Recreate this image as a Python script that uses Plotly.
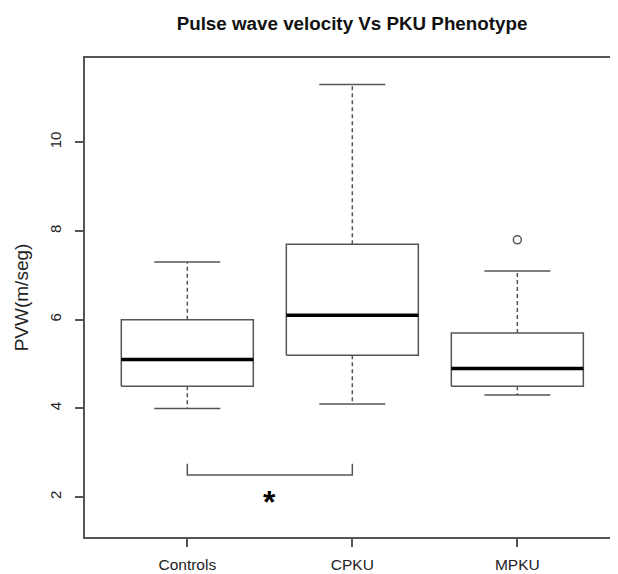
import plotly.graph_objects as go

categories = ["Controls", "CPKU", "MPKU"]
lower_whisker = [4.0, 4.1, 4.3]
q1 = [4.5, 5.2, 4.5]
median = [5.1, 6.1, 4.9]
q3 = [6.0, 7.7, 5.7]
upper_whisker = [7.3, 11.3, 7.1]
outlier_group = [3]
outlier_values = [7.8]
y_ticks = [2, 4, 6, 8, 10]

# significance bracket between Controls and CPKU
bracket_groups = [1, 2]
bracket_level = 2.5
bracket_top = 2.75
star_level = 2.0

box_half = 0.4
staple_half = 0.2
line_col = "#555555"

# page body has an 8px margin; compensate so the figure lands where the reference is
W, H = 610, 566

fig = go.Figure()

for i, name in enumerate(categories):
    x = i + 1
    fig.add_trace(go.Scatter(
        x=[x - box_half, x + box_half, x + box_half, x - box_half, x - box_half],
        y=[q1[i], q1[i], q3[i], q3[i], q1[i]],
        mode="lines", line=dict(color=line_col, width=1.5),
        showlegend=False, hoverinfo="skip"))
    fig.add_trace(go.Scatter(
        x=[x, x, None, x, x],
        y=[q3[i], upper_whisker[i], None, q1[i], lower_whisker[i]],
        mode="lines", line=dict(color=line_col, width=1.5, dash="4px,3px"),
        showlegend=False, hoverinfo="skip"))
    fig.add_trace(go.Scatter(
        x=[x - staple_half, x + staple_half, None, x - staple_half, x + staple_half],
        y=[upper_whisker[i], upper_whisker[i], None, lower_whisker[i], lower_whisker[i]],
        mode="lines", line=dict(color=line_col, width=1.5),
        showlegend=False, hoverinfo="skip"))
    fig.add_trace(go.Scatter(
        x=[x - box_half, x + box_half],
        y=[median[i], median[i]],
        mode="lines", line=dict(color="black", width=3.5),
        showlegend=False, hoverinfo="skip"))

fig.add_trace(go.Scatter(
    x=outlier_group, y=outlier_values, mode="markers",
    marker=dict(symbol="circle-open", size=8, color=line_col, line=dict(width=1.5)),
    showlegend=False, hoverinfo="skip"))

fig.add_trace(go.Scatter(
    x=[bracket_groups[0], bracket_groups[0], bracket_groups[1], bracket_groups[1]],
    y=[bracket_top, bracket_level, bracket_level, bracket_top],
    mode="lines", line=dict(color=line_col, width=1.5),
    showlegend=False, hoverinfo="skip"))

fig.add_annotation(x=(bracket_groups[0] + bracket_groups[1]) / 2, y=star_level,
                   text="<b>*</b>", showarrow=False,
                   font=dict(size=32, color="black", family="Liberation Sans"),
                   yshift=-5)

fig.update_layout(
    width=W, height=H,
    margin=dict(l=77, r=0, t=50, b=37),
    plot_bgcolor="white", paper_bgcolor="white",
    font=dict(family="Liberation Sans, Arial, sans-serif", size=15.5, color="#222222"),
    title=dict(text="<b>Pulse wave velocity Vs PKU Phenotype</b>",
               x=344 / W, xanchor="center", y=1 - 15 / H, yanchor="middle",
               font=dict(size=18.8, color="#111111")),
)

fig.update_xaxes(range=[0.38, 3.61], tickvals=[1, 2, 3], ticktext=categories,
                 showgrid=False, zeroline=False, showline=True, mirror=True,
                 linecolor=line_col, linewidth=1.5, ticks="outside", ticklen=8,
                 tickcolor=line_col, tickwidth=1.5, ticklabelstandoff=5,
                 automargin=False)
fig.update_yaxes(range=[1.1, 11.9], tickvals=y_ticks, ticktext=[str(v) for v in y_ticks],
                 tickangle=-90, showgrid=False, zeroline=False, showline=True,
                 linecolor=line_col, linewidth=1.5, ticks="outside", ticklen=8,
                 tickcolor=line_col, tickwidth=1.5, tickfont=dict(size=15),
                 ticklabelstandoff=8, automargin=False,
                 title=dict(text="PVW(m/seg)", standoff=14))

fig.write_html("out.html")
